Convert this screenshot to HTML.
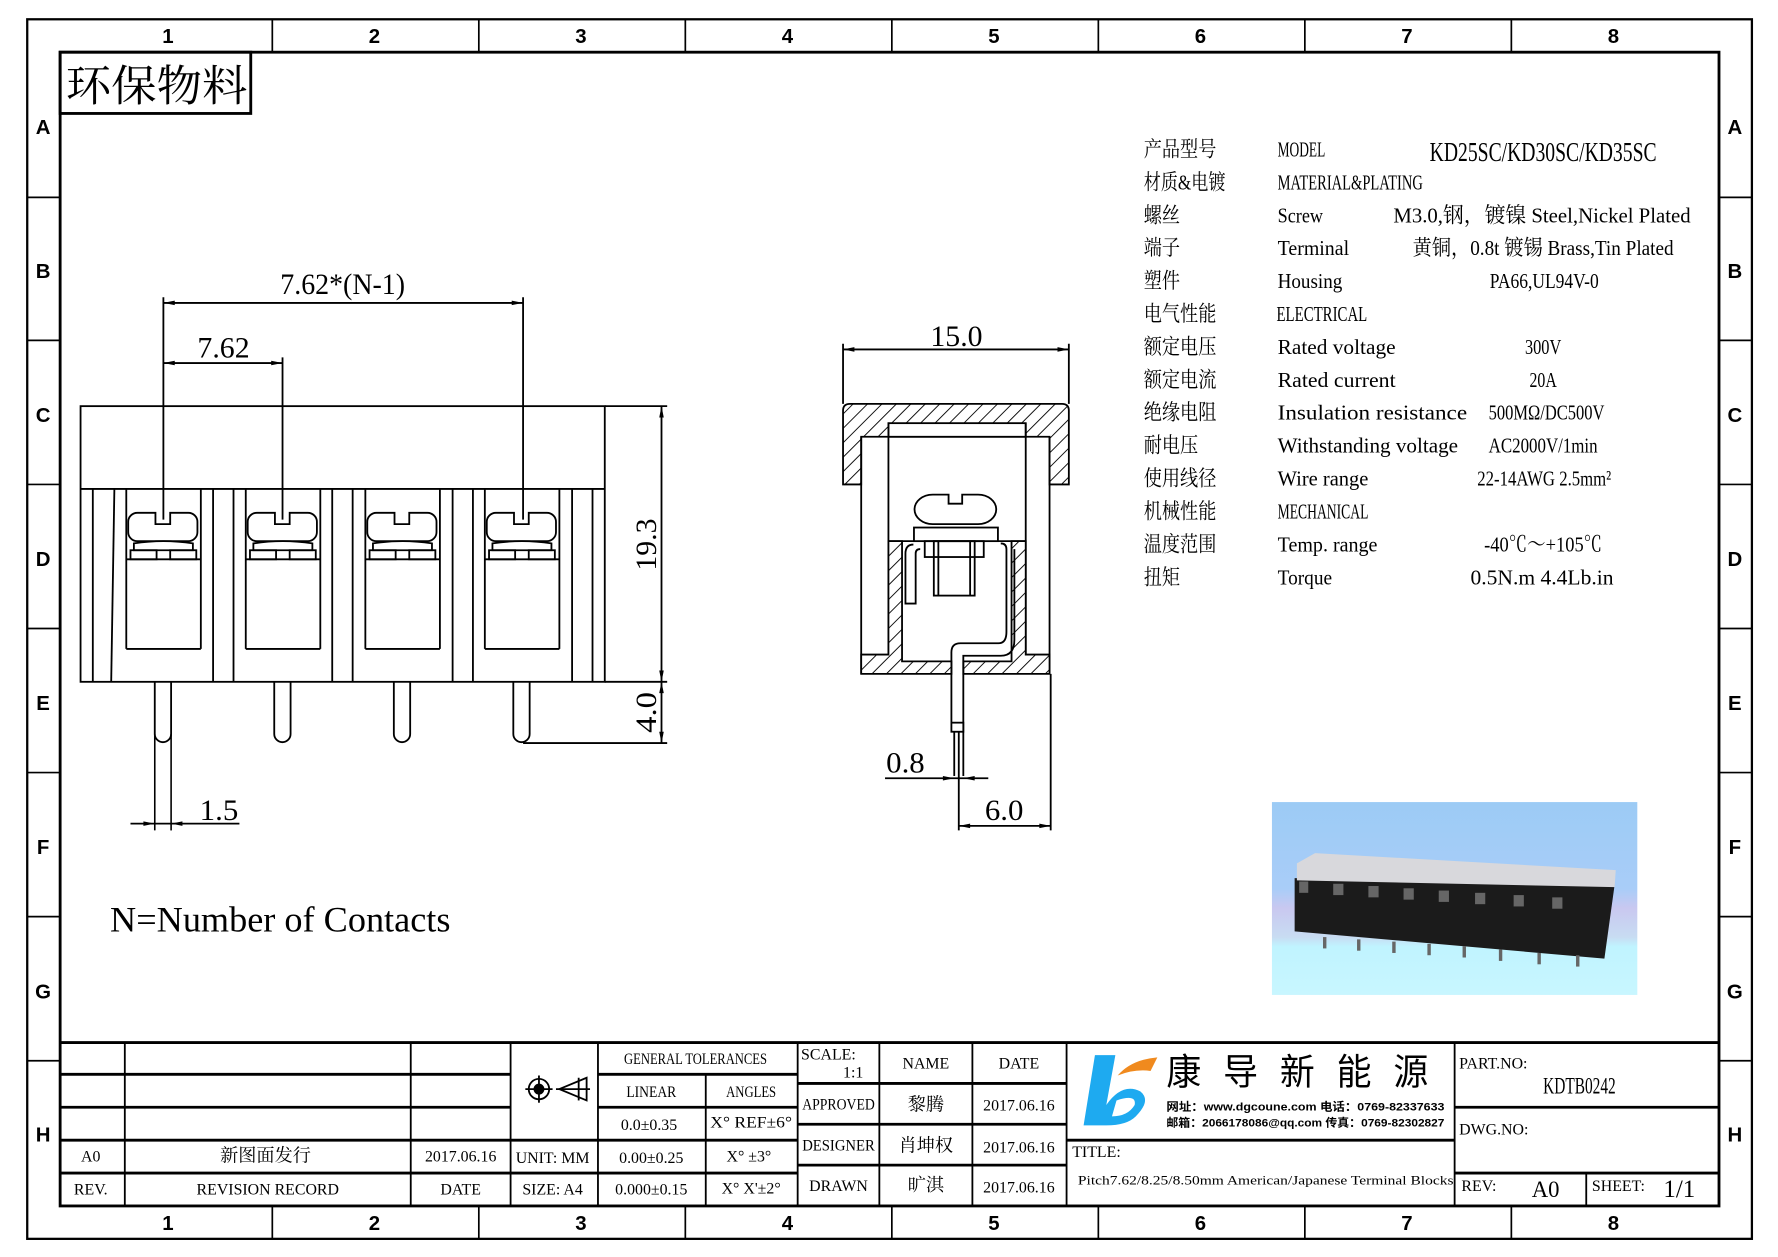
<!DOCTYPE html>
<html><head><meta charset="utf-8"><style>
html,body{margin:0;padding:0;background:#fff;}
svg{display:block;}
text{font-family:"Liberation Serif","Noto Serif CJK SC","Noto Sans CJK SC",serif;fill:#000;}
.s{font-family:"Liberation Sans","Noto Sans CJK SC",sans-serif;font-weight:bold;}
</style></head><body>
<svg width="1778" height="1257" viewBox="0 0 1567 1108" preserveAspectRatio="none" xmlns="http://www.w3.org/2000/svg">
<defs>
<pattern id="h" patternUnits="userSpaceOnUse" width="9" height="9" patternTransform="rotate(45)">
<rect width="9" height="9" fill="#fff"/><line x1="0" y1="0" x2="0" y2="9" stroke="#000" stroke-width="1.6"/>
</pattern>
<linearGradient id="bg" x1="0" y1="0" x2="0" y2="1">
<stop offset="0" stop-color="#9ccbf5"/><stop offset="0.45" stop-color="#a9cdf8"/><stop offset="0.55" stop-color="#c9c8f0"/><stop offset="0.7" stop-color="#c8dcf2"/><stop offset="0.75" stop-color="#c0f4ff"/><stop offset="1" stop-color="#c8f6ff"/>
</linearGradient>
</defs>
<g fill="none" stroke="#000">
<rect x="24" y="17" width="1520" height="1075" stroke-width="2"/>
<rect x="53" y="46" width="1462" height="1017" stroke-width="2.5"/>
<g stroke-width="1.5">
<line x1="240" y1="17" x2="240" y2="46"/><line x1="422" y1="17" x2="422" y2="46"/><line x1="604" y1="17" x2="604" y2="46"/><line x1="786" y1="17" x2="786" y2="46"/><line x1="968" y1="17" x2="968" y2="46"/><line x1="1150" y1="17" x2="1150" y2="46"/><line x1="1332" y1="17" x2="1332" y2="46"/>
<line x1="240" y1="1063" x2="240" y2="1092"/><line x1="422" y1="1063" x2="422" y2="1092"/><line x1="604" y1="1063" x2="604" y2="1092"/><line x1="786" y1="1063" x2="786" y2="1092"/><line x1="968" y1="1063" x2="968" y2="1092"/><line x1="1150" y1="1063" x2="1150" y2="1092"/><line x1="1332" y1="1063" x2="1332" y2="1092"/>
<line x1="24" y1="174" x2="53" y2="174"/><line x1="24" y1="300" x2="53" y2="300"/><line x1="24" y1="427" x2="53" y2="427"/><line x1="24" y1="554" x2="53" y2="554"/><line x1="24" y1="681" x2="53" y2="681"/><line x1="24" y1="808" x2="53" y2="808"/><line x1="24" y1="935" x2="53" y2="935"/>
<line x1="1515" y1="174" x2="1544" y2="174"/><line x1="1515" y1="300" x2="1544" y2="300"/><line x1="1515" y1="427" x2="1544" y2="427"/><line x1="1515" y1="554" x2="1544" y2="554"/><line x1="1515" y1="681" x2="1544" y2="681"/><line x1="1515" y1="808" x2="1544" y2="808"/><line x1="1515" y1="935" x2="1544" y2="935"/>
</g>
<rect x="53" y="46" width="168" height="54" stroke-width="2.5"/>

<g stroke-width="1.6">
<rect x="71" y="358" width="462" height="243"/>
<line x1="71" y1="431" x2="533" y2="431"/>
<line x1="81.8" y1="431" x2="81.8" y2="601"/><line x1="100.8" y1="431" x2="98" y2="601"/>
<line x1="187.8" y1="431" x2="187.8" y2="601"/><line x1="205.8" y1="431" x2="205.8" y2="601"/>
<line x1="292.8" y1="431" x2="292.8" y2="601"/><line x1="310.8" y1="431" x2="310.8" y2="601"/>
<line x1="398.9" y1="431" x2="398.9" y2="601"/><line x1="416.8" y1="431" x2="416.8" y2="601"/>
<line x1="504.2" y1="431" x2="504.2" y2="601"/><line x1="522.2" y1="431" x2="522.2" y2="601"/>
<line x1="533" y1="358" x2="588" y2="358"/><line x1="533" y1="601" x2="588" y2="601"/>
</g>
<g id="pole" stroke-width="1.6">
<line x1="111.3" y1="431" x2="111.3" y2="572"/><line x1="177" y1="431" x2="177" y2="572"/>
<line x1="111.3" y1="572" x2="177" y2="572"/><line x1="111.3" y1="493" x2="177" y2="493"/>
<path d="M121,452 h16 v10 h13 v-10 h16 a8,8 0 0 1 8,8 v9 a8,8 0 0 1 -8,8 h-45 a8,8 0 0 1 -8,-8 v-9 a8,8 0 0 1 8,-8z"/>
<path d="M118,479 q26,-4 52,0 v6 h-52z"/>
<rect x="115" y="485" width="23" height="8"/><rect x="150" y="485" width="23" height="8"/>
<path d="M136.4,601 v46 a7,7 0 0 0 14.4,0 v-46"/>
</g>
<use href="#pole" transform="translate(105.3,0)"/>
<use href="#pole" transform="translate(210.7,0)"/>
<use href="#pole" transform="translate(316,0)"/>
<line x1="136.4" y1="647" x2="136.4" y2="732" stroke-width="1.4"/>
<line x1="150.8" y1="647" x2="150.8" y2="732" stroke-width="1.4"/>
<g stroke-width="1.6">
<line x1="144" y1="262" x2="144" y2="458"/><line x1="461" y1="262" x2="461" y2="458"/><line x1="249" y1="315" x2="249" y2="458"/>
<line x1="144" y1="267" x2="461" y2="267"/><line x1="144" y1="320" x2="249" y2="320"/>
<line x1="583" y1="358" x2="583" y2="655"/>
<line x1="461" y1="655" x2="588" y2="655"/>
<line x1="115" y1="726" x2="211" y2="726"/>
</g>
<g fill="#000" stroke="none">
<path d="M144,267 l10,-2 v4z"/><path d="M461,267 l-10,-2 v4z"/>
<path d="M144,320 l10,-2 v4z"/><path d="M249,320 l-10,-2 v4z"/>
<path d="M583,358 l-2,10 h4z"/><path d="M583,601 l-2,-10 h4z"/><path d="M583,601 l-2,10 h4z"/><path d="M583,655 l-2,-10 h4z"/>
<path d="M136.4,726 l-10,-2 v4z"/><path d="M150.8,726 l10,-2 v4z"/>
</g>

<g stroke-width="1.6">
<path d="M743,427 V362 q0,-6 6,-6 H936 q6,0 6,6 V427 H925 V385 H759 V427z" fill="url(#h)"/>
<rect x="783" y="373" width="121" height="12" fill="#fff"/>
<line x1="759" y1="385" x2="759" y2="594"/><line x1="925" y1="385" x2="925" y2="594"/>
<line x1="783" y1="373" x2="783" y2="577"/><line x1="904" y1="373" x2="904" y2="577"/>
<path d="M759,577 H783 V477 H795 V583 H838.5 V594 H759z" fill="url(#h)"/>
<path d="M849,583 H891.5 V477 H904 V577 H925 V594 H849z" fill="url(#h)"/>
<line x1="783" y1="477" x2="904" y2="477"/>
<rect x="805.5" y="465" width="74" height="12" fill="#fff"/>
<path d="M822,436 h14 v8 h12 v-8 h14 a16,13 0 0 1 0,26 h-40 a16,13 0 0 1 0,-26z" fill="#fff"/>
<rect x="823" y="477" width="36" height="48"/><line x1="827" y1="477" x2="827" y2="525"/><line x1="855" y1="477" x2="855" y2="525"/>
<rect x="815" y="477" width="52" height="14"/>
<path d="M805,480 q-7,0 -7,8 V532 H807 V488 q0,-4 4,-4"/>
<path d="M838.5,645 V575 q0,-8 8,-8 H880 q7,0 7,-10 V484 q0,-5 -5,-5"/>
<path d="M849,645 V578 H882 q12,0 12,-14 V484"/>
<rect x="838.5" y="637" width="10.5" height="8" fill="#fff"/>
<line x1="841" y1="645" x2="841" y2="684"/><line x1="845" y1="645" x2="845" y2="732"/><line x1="849" y1="645" x2="849" y2="684"/>
<line x1="743" y1="303" x2="743" y2="356"/><line x1="942" y1="303" x2="942" y2="356"/>
<line x1="743" y1="308" x2="942" y2="308"/>
<line x1="926" y1="594" x2="926" y2="732"/>
<line x1="845" y1="728" x2="926" y2="728"/>
<line x1="780" y1="686" x2="871" y2="686"/>
</g>
<g fill="#000" stroke="none">
<path d="M743,308 l10,-2 v4z"/><path d="M942,308 l-10,-2 v4z"/>
<path d="M845,728 l10,-2 v4z"/><path d="M926,728 l-10,-2 v4z"/>
<path d="M841,686 l-10,-2 v4z"/><path d="M849,686 l10,-2 v4z"/>
</g>

<rect x="1121" y="707" width="322" height="170" fill="url(#bg)" stroke="none"/>
<polygon points="1141,774 1423,780 1414,845 1141,821" fill="#1b1b1b" stroke="none"/>
<polygon points="1143,761 1159,752 1424,767 1423,782 1143,776" fill="#d8d8dc" stroke="none"/>
<g fill="#666" stroke="none">
<rect x="1145" y="777" width="8" height="10"/><rect x="1175" y="779" width="9" height="10"/><rect x="1206" y="781" width="9" height="10"/><rect x="1237" y="783" width="9" height="10"/><rect x="1268" y="785" width="9" height="10"/><rect x="1300" y="787" width="9" height="10"/><rect x="1334" y="789" width="9" height="10"/><rect x="1368" y="791" width="9" height="10"/>
<rect x="1166" y="826" width="3" height="10"/><rect x="1196" y="828" width="3" height="10"/><rect x="1227" y="830" width="3" height="10"/><rect x="1258" y="832" width="3" height="10"/><rect x="1289" y="834" width="3" height="10"/><rect x="1321" y="837" width="3" height="10"/><rect x="1355" y="840" width="3" height="10"/><rect x="1389" y="842" width="3" height="10"/>
</g>

<g stroke-width="2.5">
<line x1="53" y1="919" x2="1515" y2="919"/>
<line x1="53" y1="947" x2="450" y2="947"/><line x1="53" y1="976" x2="450" y2="976"/><line x1="53" y1="1005" x2="450" y2="1005"/><line x1="53" y1="1034" x2="450" y2="1034"/>
<line x1="450" y1="1005" x2="703" y2="1005"/><line x1="450" y1="1034" x2="703" y2="1034"/>
<line x1="527" y1="947" x2="703" y2="947"/><line x1="527" y1="976" x2="703" y2="976"/>
<line x1="703" y1="955" x2="940" y2="955"/><line x1="703" y1="991" x2="940" y2="991"/><line x1="703" y1="1027" x2="940" y2="1027"/>
<line x1="940" y1="1005" x2="1282" y2="1005"/>
<line x1="1282" y1="976" x2="1515" y2="976"/><line x1="1282" y1="1034" x2="1515" y2="1034"/>
</g>
<g stroke-width="1.6">
<line x1="110" y1="919" x2="110" y2="1063"/><line x1="362" y1="919" x2="362" y2="1063"/><line x1="450" y1="919" x2="450" y2="1063"/><line x1="527" y1="919" x2="527" y2="1063"/>
<line x1="622" y1="947" x2="622" y2="1063"/><line x1="703" y1="919" x2="703" y2="1063"/><line x1="775" y1="919" x2="775" y2="1063"/><line x1="857" y1="919" x2="857" y2="1063"/>
<line x1="940" y1="919" x2="940" y2="1063"/><line x1="1282" y1="919" x2="1282" y2="1063"/><line x1="1398" y1="1034" x2="1398" y2="1063"/>
</g>
<g stroke-width="1.6">
<circle cx="475" cy="960" r="9"/><circle cx="475" cy="960" r="4" fill="#000"/>
<line x1="463" y1="960" x2="487" y2="960"/><line x1="475" y1="948" x2="475" y2="972"/>
<path d="M493,960 l24,-10 v20z"/><line x1="490" y1="960" x2="520" y2="960"/><line x1="510" y1="950" x2="510" y2="970"/>
</g>
</g>
<path d="M965,930 h18 l-8,44 q14,-20 30,-12 q10,8 -4,22 q-8,8 -26,8 h-20z M984,970 l-4,14 q14,0 20,-10 q2,-10 -16,-4z" fill="#1eaaf0"/>
<path d="M985,948 q12,-14 35,-16 l-6,12 q-14,-2 -29,4z" fill="#f08a1e"/>

<g font-size="18" text-anchor="middle" class="s">
<text x="148" y="38" class="s">1</text><text x="330" y="38" class="s">2</text><text x="512" y="38" class="s">3</text><text x="694" y="38" class="s">4</text><text x="876" y="38" class="s">5</text><text x="1058" y="38" class="s">6</text><text x="1240" y="38" class="s">7</text><text x="1422" y="38" class="s">8</text>
<text x="148" y="1084" class="s">1</text><text x="330" y="1084" class="s">2</text><text x="512" y="1084" class="s">3</text><text x="694" y="1084" class="s">4</text><text x="876" y="1084" class="s">5</text><text x="1058" y="1084" class="s">6</text><text x="1240" y="1084" class="s">7</text><text x="1422" y="1084" class="s">8</text>
<text x="38" y="118" class="s">A</text><text x="38" y="245" class="s">B</text><text x="38" y="372" class="s">C</text><text x="38" y="499" class="s">D</text><text x="38" y="626" class="s">E</text><text x="38" y="753" class="s">F</text><text x="38" y="880" class="s">G</text><text x="38" y="1006" class="s" font-weight="normal">H</text>
<text x="1529" y="118" class="s">A</text><text x="1529" y="245" class="s">B</text><text x="1529" y="372" class="s">C</text><text x="1529" y="499" class="s">D</text><text x="1529" y="626" class="s">E</text><text x="1529" y="753" class="s">F</text><text x="1529" y="880" class="s">G</text><text x="1529" y="1006" class="s">H</text>
</g>
<text x="58" y="89" font-size="38" textLength="160" lengthAdjust="spacingAndGlyphs">环保物料</text>
<g font-size="26" text-anchor="middle">
<text x="302" y="259" textLength="110" lengthAdjust="spacingAndGlyphs">7.62*(N-1)</text>
<text x="197" y="315" textLength="46" lengthAdjust="spacingAndGlyphs">7.62</text>
<text x="193" y="723" textLength="34" lengthAdjust="spacingAndGlyphs">1.5</text>
<text x="843" y="305" textLength="46" lengthAdjust="spacingAndGlyphs">15.0</text>
<text x="798" y="681" textLength="34" lengthAdjust="spacingAndGlyphs">0.8</text>
<text x="885" y="723" textLength="34" lengthAdjust="spacingAndGlyphs">6.0</text>
<text transform="translate(578,480) rotate(-90)" textLength="46" lengthAdjust="spacingAndGlyphs">19.3</text>
<text transform="translate(578,628) rotate(-90)" textLength="36" lengthAdjust="spacingAndGlyphs">4.0</text>
</g>
<text x="97" y="821" font-size="32" textLength="300" lengthAdjust="spacingAndGlyphs">N=Number of Contacts</text>

<g font-size="19">
<text x="1008" y="138" textLength="64" lengthAdjust="spacingAndGlyphs">产品型号</text><text x="1126" y="138" textLength="42" lengthAdjust="spacingAndGlyphs">MODEL</text>
<text x="1260" y="142" font-size="24" textLength="200" lengthAdjust="spacingAndGlyphs">KD25SC/KD30SC/KD35SC</text>
<text x="1008" y="167" textLength="72" lengthAdjust="spacingAndGlyphs">材质&amp;电镀</text><text x="1126" y="167" textLength="128" lengthAdjust="spacingAndGlyphs">MATERIAL&amp;PLATING</text>
<text x="1008" y="196" textLength="32" lengthAdjust="spacingAndGlyphs">螺丝</text><text x="1126" y="196" textLength="40" lengthAdjust="spacingAndGlyphs">Screw</text>
<text x="1228" y="196" textLength="262" lengthAdjust="spacingAndGlyphs">M3.0,钢，镀镍 Steel,Nickel Plated</text>
<text x="1008" y="225" textLength="32" lengthAdjust="spacingAndGlyphs">端子</text><text x="1126" y="225" textLength="63" lengthAdjust="spacingAndGlyphs">Terminal</text>
<text x="1245" y="225" textLength="230" lengthAdjust="spacingAndGlyphs">黄铜，0.8t 镀锡 Brass,Tin Plated</text>
<text x="1008" y="254" textLength="32" lengthAdjust="spacingAndGlyphs">塑件</text><text x="1126" y="254" textLength="57" lengthAdjust="spacingAndGlyphs">Housing</text>
<text x="1313" y="254" textLength="96" lengthAdjust="spacingAndGlyphs">PA66,UL94V-0</text>
<text x="1008" y="283" textLength="64" lengthAdjust="spacingAndGlyphs">电气性能</text><text x="1125" y="283" textLength="80" lengthAdjust="spacingAndGlyphs">ELECTRICAL</text>
<text x="1008" y="312" textLength="64" lengthAdjust="spacingAndGlyphs">额定电压</text><text x="1126" y="312" textLength="104" lengthAdjust="spacingAndGlyphs">Rated voltage</text><text x="1344" y="312" textLength="32" lengthAdjust="spacingAndGlyphs">300V</text>
<text x="1008" y="341" textLength="64" lengthAdjust="spacingAndGlyphs">额定电流</text><text x="1126" y="341" textLength="104" lengthAdjust="spacingAndGlyphs">Rated current</text><text x="1348" y="341" textLength="24" lengthAdjust="spacingAndGlyphs">20A</text>
<text x="1008" y="370" textLength="64" lengthAdjust="spacingAndGlyphs">绝缘电阻</text><text x="1126" y="370" textLength="167" lengthAdjust="spacingAndGlyphs">Insulation resistance</text><text x="1312" y="370" textLength="102" lengthAdjust="spacingAndGlyphs">500MΩ/DC500V</text>
<text x="1008" y="399" textLength="48" lengthAdjust="spacingAndGlyphs">耐电压</text><text x="1126" y="399" textLength="159" lengthAdjust="spacingAndGlyphs">Withstanding voltage</text><text x="1312" y="399" textLength="96" lengthAdjust="spacingAndGlyphs">AC2000V/1min</text>
<text x="1008" y="428" textLength="64" lengthAdjust="spacingAndGlyphs">使用线径</text><text x="1126" y="428" textLength="80" lengthAdjust="spacingAndGlyphs">Wire range</text><text x="1302" y="428" textLength="118" lengthAdjust="spacingAndGlyphs">22-14AWG 2.5mm²</text>
<text x="1008" y="457" textLength="64" lengthAdjust="spacingAndGlyphs">机械性能</text><text x="1126" y="457" textLength="80" lengthAdjust="spacingAndGlyphs">MECHANICAL</text>
<text x="1008" y="486" textLength="64" lengthAdjust="spacingAndGlyphs">温度范围</text><text x="1126" y="486" textLength="88" lengthAdjust="spacingAndGlyphs">Temp. range</text><text x="1308" y="486" textLength="104" lengthAdjust="spacingAndGlyphs">-40℃～+105℃</text>
<text x="1008" y="515" textLength="32" lengthAdjust="spacingAndGlyphs">扭矩</text><text x="1126" y="515" textLength="48" lengthAdjust="spacingAndGlyphs">Torque</text><text x="1296" y="515" textLength="126" lengthAdjust="spacingAndGlyphs">0.5N.m  4.4Lb.in</text>
</g>

<g font-size="14" text-anchor="middle">
<text x="613" y="938" textLength="126" lengthAdjust="spacingAndGlyphs">GENERAL TOLERANCES</text>
<text x="574" y="967" textLength="44" lengthAdjust="spacingAndGlyphs">LINEAR</text><text x="662" y="967" textLength="44" lengthAdjust="spacingAndGlyphs">ANGLES</text>
<text x="572" y="996">0.0±0.35</text><text x="662" y="994" textLength="72" lengthAdjust="spacingAndGlyphs">X° REF±6°</text>
<text x="80" y="1024">A0</text><text x="234" y="1024" font-size="16">新图面发行</text><text x="406" y="1024">2017.06.16</text>
<text x="487" y="1025">UNIT: MM</text><text x="574" y="1025">0.00±0.25</text><text x="660" y="1024">X° ±3°</text>
<text x="80" y="1053">REV.</text><text x="236" y="1053">REVISION RECORD</text><text x="406" y="1053">DATE</text>
<text x="487" y="1053">SIZE: A4</text><text x="574" y="1053">0.000±0.15</text><text x="662" y="1052">X° X'±2°</text>
<text x="816" y="942">NAME</text><text x="898" y="942">DATE</text>
<text x="739" y="978" textLength="64" lengthAdjust="spacingAndGlyphs">APPROVED</text><text x="816" y="979" font-size="16">黎腾</text><text x="898" y="979">2017.06.16</text>
<text x="739" y="1014" textLength="64" lengthAdjust="spacingAndGlyphs">DESIGNER</text><text x="816" y="1015" font-size="16">肖坤权</text><text x="898" y="1016">2017.06.16</text>
<text x="739" y="1050">DRAWN</text><text x="816" y="1050" font-size="16">旷淇</text><text x="898" y="1051">2017.06.16</text>
</g>
<g font-size="14">
<text x="706" y="934">SCALE:</text><text x="743" y="950">1:1</text>
<text x="945" y="1020">TITLE:</text>
<text x="950" y="1044" font-size="11" textLength="331" lengthAdjust="spacingAndGlyphs">Pitch7.62/8.25/8.50mm American/Japanese Terminal Blocks</text>
<text x="1286" y="942">PART.NO:</text>
<text x="1360" y="964" font-size="20" textLength="64" lengthAdjust="spacingAndGlyphs">KDTB0242</text>
<text x="1286" y="1000">DWG.NO:</text>
<text x="1288" y="1050">REV:</text><text x="1350" y="1055" font-size="20">A0</text>
<text x="1403" y="1050">SHEET:</text><text x="1466" y="1055" font-size="22">1/1</text>
</g>
<text x="1028" y="956" font-size="32" textLength="250" lengthAdjust="spacingAndGlyphs" style="font-family:'Noto Sans CJK SC',sans-serif;letter-spacing:20px">康导新能源</text>
<text x="1028" y="979" font-size="10" font-weight="bold" textLength="245" lengthAdjust="spacingAndGlyphs" style="font-family:'Liberation Sans','Noto Sans CJK SC',sans-serif">网址：www.dgcoune.com  电话：0769-82337633</text>
<text x="1028" y="993" font-size="10" font-weight="bold" textLength="245" lengthAdjust="spacingAndGlyphs" style="font-family:'Liberation Sans','Noto Sans CJK SC',sans-serif">邮箱：2066178086@qq.com 传真：0769-82302827</text>
</svg>
</body></html>
